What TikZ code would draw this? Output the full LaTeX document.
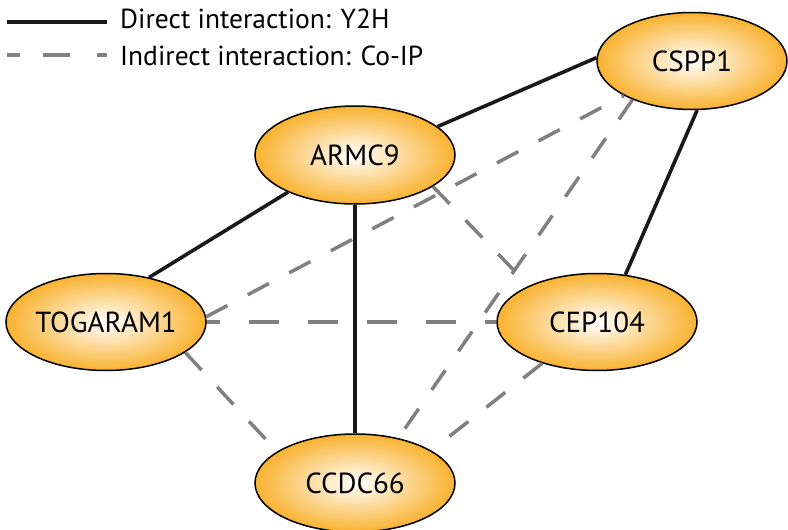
\documentclass[tikz,border=0pt]{standalone}
\usepackage{fontspec}
\setmainfont{PT Sans}
\usetikzlibrary{shapes.geometric}
\definecolor{nodeorange}{RGB}{249,178,48}
\definecolor{dashgray}{RGB}{128,128,128}
\tikzset{
  prot/.style={ellipse, draw=black, line width=1.5pt, inner color=white, outer color=nodeorange,
    minimum width=200pt, minimum height=98pt, inner sep=0pt, font=\fontsize{29}{32}\selectfont},
  direct/.style={line width=3.6pt, black!90},
  indirect/.style={line width=3.5pt, dashgray, dash pattern=on 24pt off 23pt},
  legtext/.style={anchor=base west, inner sep=0pt, font=\fontsize{27.5}{30}\selectfont}
}
\begin{document}
\begin{tikzpicture}[x=1pt,y=-1pt]
\useasboundingbox (0,0) rectangle (788,530);
% nodes
\node[prot] (armc9) at (355,155) {ARMC9};
\node[prot, minimum width=190pt, minimum height=97pt] (cspp1) at (692,61) {CSPP1};
\node[prot, minimum width=198pt, minimum height=97pt] (togaram1) at (106,322) {TOGARAM1};
\node[prot, minimum height=97pt] (cep104) at (597,322) {CEP104};
\node[prot] (ccdc66) at (355,483) {CCDC66};
% indirect interactions
\draw[indirect] (togaram1.3) -- (cspp1.207);
\draw[indirect, dash pattern=on 30pt off 29pt, dash phase=17pt] (togaram1.east) -- (cep104.west);
\draw[indirect] (togaram1.339) -- (ccdc66.158);
\draw[indirect] (armc9.-22) -- (cep104.152);
\draw[indirect] (cspp1.213) -- (ccdc66.46);
\draw[indirect] (cep104.217) -- (ccdc66.23);
% direct interactions
\draw[direct] (armc9.19) -- (cspp1.178);
\draw[direct] (armc9.209) -- (togaram1.46);
\draw[direct] (armc9.south) -- (ccdc66.north);
\draw[direct] (cspp1.276) -- (cep104.59);
% legend
\coordinate (l1a) at (7,22);
\coordinate (l1b) at (107,22);
\coordinate (l2a) at (7,55);
\coordinate (l2b) at (107,55);
\draw[direct] (l1a) -- (l1b);
\draw[indirect, dash pattern=on 13pt off 23pt on 27pt off 27pt on 10pt off 100pt] (l2a) -- (l2b);
\node[legtext] (leg1) at (120,28) {Direct interaction: Y2H};
\node[legtext] (leg2) at (120,65) {Indirect interaction: Co-IP};
\end{tikzpicture}
\end{document}
